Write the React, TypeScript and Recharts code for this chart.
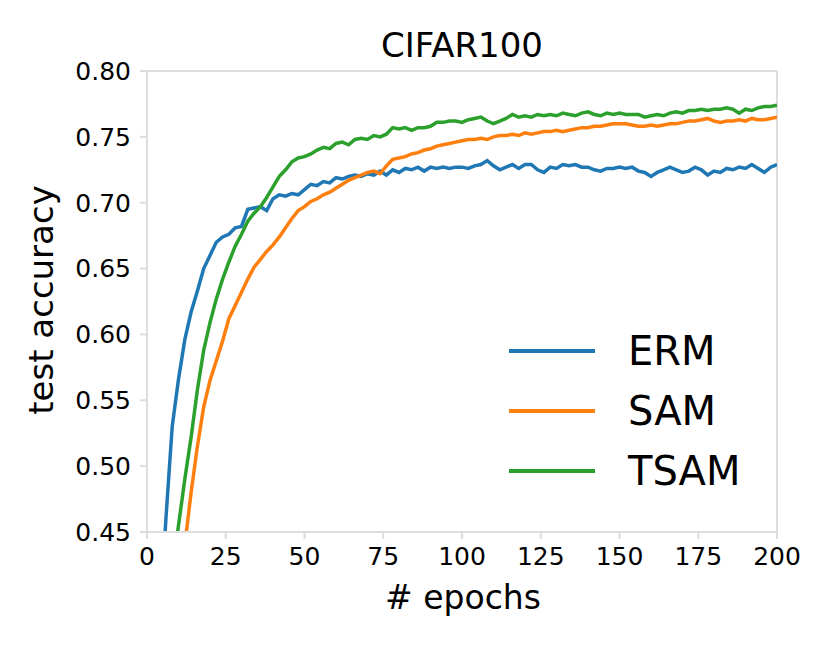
import React from 'react';
import { LineChart, Line, XAxis, YAxis, ReferenceLine, Customized } from 'recharts';

const epochs = [
  2, 4, 6, 8, 10, 12, 14, 16, 18, 20, 22, 24, 26, 28, 30, 32, 34, 36, 38, 40,
  42, 44, 46, 48, 50, 52, 54, 56, 58, 60, 62, 64, 66, 68, 70, 72, 74, 76, 78, 80,
  82, 84, 86, 88, 90, 92, 94, 96, 98, 100, 102, 104, 106, 108, 110, 112, 114, 116, 118, 120,
  122, 124, 126, 128, 130, 132, 134, 136, 138, 140, 142, 144, 146, 148, 150, 152, 154, 156, 158, 160,
  162, 164, 166, 168, 170, 172, 174, 176, 178, 180, 182, 184, 186, 188, 190, 192, 194, 196, 198, 200,
];

const erm = [
  0.25, 0.38, 0.46, 0.53, 0.566, 0.596, 0.617, 0.633, 0.65, 0.66, 0.67, 0.674, 0.676, 0.681, 0.682, 0.695, 0.696, 0.697, 0.694, 0.703,
  0.706, 0.705, 0.707, 0.706, 0.71, 0.714, 0.713, 0.716, 0.715, 0.719, 0.718, 0.72, 0.721, 0.72, 0.722, 0.721, 0.724, 0.721, 0.725, 0.723,
  0.726, 0.725, 0.727, 0.724, 0.727, 0.726, 0.727, 0.726, 0.727, 0.727, 0.726, 0.728, 0.729, 0.732, 0.728, 0.725, 0.727, 0.729, 0.726, 0.729,
  0.729, 0.725, 0.723, 0.727, 0.726, 0.729, 0.728, 0.729, 0.727, 0.727, 0.725, 0.724, 0.726, 0.726, 0.727, 0.726, 0.727, 0.724, 0.723, 0.72,
  0.723, 0.725, 0.727, 0.725, 0.723, 0.724, 0.727, 0.725, 0.721, 0.724, 0.723, 0.726, 0.725, 0.727, 0.726, 0.729, 0.726, 0.723, 0.727, 0.729,
];

const sam = [
  0.2, 0.28, 0.33, 0.37, 0.41, 0.44, 0.48, 0.515, 0.545, 0.565, 0.58, 0.595, 0.612, 0.622, 0.632, 0.642, 0.651, 0.657, 0.663, 0.668,
  0.674, 0.681, 0.688, 0.694, 0.697, 0.701, 0.703, 0.706, 0.708, 0.711, 0.714, 0.717, 0.719, 0.721, 0.723, 0.724, 0.722, 0.728, 0.733, 0.734,
  0.735, 0.737, 0.738, 0.74, 0.741, 0.743, 0.744, 0.745, 0.746, 0.747, 0.748, 0.748, 0.749, 0.748, 0.75, 0.751, 0.751, 0.752, 0.751, 0.753,
  0.752, 0.753, 0.754, 0.754, 0.755, 0.754, 0.755, 0.756, 0.757, 0.757, 0.758, 0.758, 0.759, 0.76, 0.76, 0.76, 0.759, 0.758, 0.758, 0.759,
  0.758, 0.759, 0.76, 0.76, 0.761, 0.762, 0.762, 0.763, 0.764, 0.762, 0.761, 0.762, 0.762, 0.763, 0.762, 0.764, 0.763, 0.763, 0.764, 0.765,
];

const tsam = [
  0.25, 0.33, 0.38, 0.42, 0.455, 0.49, 0.522, 0.558, 0.588, 0.609, 0.627, 0.642, 0.655, 0.667, 0.676, 0.686, 0.692, 0.697, 0.704, 0.712,
  0.72, 0.725, 0.731, 0.734, 0.735, 0.737, 0.74, 0.742, 0.741, 0.745, 0.746, 0.744, 0.748, 0.749, 0.748, 0.751, 0.75, 0.752, 0.757, 0.756,
  0.757, 0.755, 0.757, 0.757, 0.758, 0.761, 0.761, 0.762, 0.762, 0.761, 0.763, 0.764, 0.765, 0.762, 0.76, 0.762, 0.764, 0.767, 0.765, 0.766,
  0.765, 0.767, 0.766, 0.767, 0.766, 0.768, 0.767, 0.766, 0.768, 0.769, 0.767, 0.766, 0.768, 0.767, 0.768, 0.767, 0.767, 0.767, 0.765, 0.766,
  0.767, 0.766, 0.768, 0.769, 0.768, 0.77, 0.77, 0.771, 0.77, 0.771, 0.771, 0.772, 0.771, 0.768, 0.771, 0.77, 0.772, 0.773, 0.773, 0.774,
];

const xTicks = [0, 25, 50, 75, 100, 125, 150, 175, 200];
const yTicks = [0.45, 0.5, 0.55, 0.6, 0.65, 0.7, 0.75, 0.8];

const series = [
  { key: 'erm', name: 'ERM', color: '#1f77b4' },
  { key: 'sam', name: 'SAM', color: '#ff7f0e' },
  { key: 'tsam', name: 'TSAM', color: '#2ca02c' },
];

const data = epochs.map((e, i) => ({ epoch: e, erm: erm[i], sam: sam[i], tsam: tsam[i] }));

const FONT = '"DejaVu Sans", sans-serif';
const FRAME = '#dddddd';

// legend sits inside the plot, lower right, like matplotlib's loc="lower right"
const LegendBox = () => (
  <div style={{ position: 'absolute', left: 509, top: 321, fontFamily: FONT }}>
    {series.map((s) => (
      <div key={s.key} style={{ display: 'flex', alignItems: 'center', height: 60 }}>
        <div style={{ width: 86, height: 4, background: s.color, marginRight: 33 }} />
        <span style={{ fontSize: 40, color: '#000', lineHeight: '60px' }}>{s.name}</span>
      </div>
    ))}
  </div>
);

const Labels = () => (
  <g fontFamily={FONT} fill="#000">
    <text x={462} y={57} textAnchor="middle" fontSize={34}>CIFAR100</text>
    <text x={463} y={609} textAnchor="middle" fontSize={33}>
      # epochs
    </text>
    <text x={53} y={300} textAnchor="middle" fontSize={34} transform="rotate(-90 53 300)">
      test accuracy
    </text>
  </g>
);

export default function App() {
  return (
    <div style={{ position: 'absolute', left: 0, top: 0, width: 830, height: 646, background: '#fff' }}>
      <LineChart
        width={830}
        height={646}
        data={data}
        margin={{ top: 71, right: 53, bottom: 74, left: 67 }}
      >
        <XAxis
          dataKey="epoch"
          type="number"
          domain={[0, 200]}
          ticks={xTicks}
          allowDataOverflow
          height={40}
          tickSize={7}
          tickMargin={8}
          axisLine={{ stroke: FRAME, strokeWidth: 2 }}
          tickLine={{ stroke: FRAME, strokeWidth: 2 }}
          tick={{ fill: '#000', fontSize: 25, fontFamily: FONT }}
        />
        <YAxis
          type="number"
          domain={[0.45, 0.8]}
          ticks={yTicks}
          allowDataOverflow
          width={80}
          tickSize={7}
          tickMargin={9}
          tickFormatter={(v: number) => v.toFixed(2)}
          axisLine={{ stroke: FRAME, strokeWidth: 2 }}
          tickLine={{ stroke: FRAME, strokeWidth: 2 }}
          tick={{ fill: '#000', fontSize: 25, fontFamily: FONT }}
        />
        <ReferenceLine y={0.8} stroke={FRAME} strokeWidth={2} />
        <ReferenceLine x={200} stroke={FRAME} strokeWidth={2} />
        {series.map((s) => (
          <Line
            key={s.key}
            dataKey={s.key}
            name={s.name}
            type="linear"
            stroke={s.color}
            strokeWidth={3.5}
            dot={false}
            isAnimationActive={false}
          />
        ))}
        <Customized component={Labels} />
      </LineChart>
      <LegendBox />
    </div>
  );
}
